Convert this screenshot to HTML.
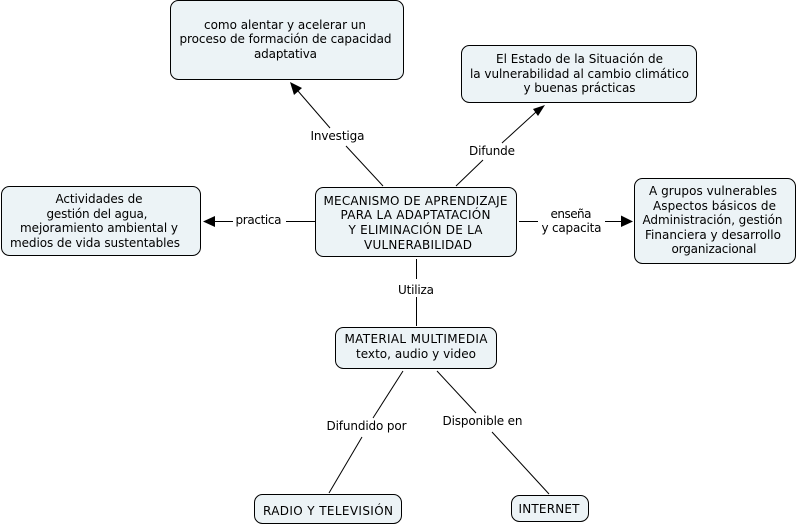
<!DOCTYPE html>
<html>
<head>
<meta charset="utf-8">
<style>
html,body{margin:0;padding:0;background:#fff;width:798px;height:526px;overflow:hidden}
svg{display:block}
text{font-family:"DejaVu Sans","Liberation Sans",sans-serif;font-size:12px;fill:#000}
rect{fill:#ecf3f6;stroke:#000;stroke-width:1}
line{stroke:#000;stroke-width:1}
polygon{fill:#000}
</style>
</head>
<body>
<svg width="798" height="526" viewBox="0 0 798 526" xmlns="http://www.w3.org/2000/svg">
<!-- connectors -->
<line x1="383" y1="186" x2="346" y2="146"/>
<line x1="330" y1="128" x2="298" y2="91"/>
<polygon points="290,82 302,88 294,95"/>
<line x1="456" y1="186" x2="483" y2="160"/>
<line x1="502" y1="143" x2="536" y2="112"/>
<polygon points="545,105 533,109 538,116"/>
<line x1="233" y1="221.500" x2="214" y2="221.500"/>
<line x1="286" y1="221.500" x2="315" y2="221.500"/>
<polygon points="203,221.500 215,216 215,227"/>
<line x1="519" y1="221.500" x2="538" y2="221.500"/>
<line x1="605" y1="221.500" x2="622" y2="221.500"/>
<polygon points="633,221.500 621,215.500 621,227"/>
<line x1="416.500" y1="259" x2="416.500" y2="279"/>
<line x1="416.500" y1="297" x2="416.500" y2="326"/>
<line x1="403" y1="371" x2="373" y2="418"/>
<line x1="362" y1="437" x2="329" y2="493"/>
<line x1="437" y1="371" x2="476" y2="413"/>
<line x1="492" y1="432" x2="549" y2="494"/>
<!-- nodes -->
<rect x="170.500" y="0.500" width="233" height="79" rx="8" ry="8"/>
<rect x="461.500" y="45.500" width="235" height="57" rx="8" ry="8"/>
<rect x="315.500" y="187.500" width="201" height="69" rx="8" ry="8"/>
<rect x="1.500" y="186.500" width="199" height="69" rx="8" ry="8"/>
<rect x="634.500" y="178.500" width="161" height="85" rx="8" ry="8"/>
<rect x="335.500" y="327.500" width="161" height="41" rx="8" ry="8"/>
<rect x="254.500" y="494.500" width="147" height="29" rx="8" ry="8"/>
<rect x="511.500" y="495.500" width="77" height="26" rx="8" ry="8"/>
<!-- node text -->
<text x="204" y="29" textLength="162" lengthAdjust="spacing">como alentar y acelerar un</text>
<text x="179.500" y="43" textLength="212" lengthAdjust="spacing">proceso de formación de capacidad</text>
<text x="254" y="58" textLength="63" lengthAdjust="spacing">adaptativa</text>

<text x="496" y="63" textLength="167" lengthAdjust="spacing">El Estado de la Situación de</text>
<text x="470" y="78" textLength="219" lengthAdjust="spacing">la vulnerabilidad al cambio climático</text>
<text x="523.500" y="92" textLength="112" lengthAdjust="spacing">y buenas prácticas</text>

<text x="323.500" y="205" textLength="184" lengthAdjust="spacing">MECANISMO DE APRENDIZAJE</text>
<text x="340.500" y="219" textLength="150" lengthAdjust="spacing">PARA LA ADAPTATACIÓN</text>
<text x="348.500" y="234" textLength="134" lengthAdjust="spacing">Y ELIMINACIÓN DE LA</text>
<text x="364" y="249" textLength="108" lengthAdjust="spacing">VULNERABILIDAD</text>

<text x="55.500" y="203" textLength="87" lengthAdjust="spacing">Actividades de</text>
<text x="46.500" y="218" textLength="101" lengthAdjust="spacing">gestión del agua,</text>
<text x="20" y="232" textLength="158" lengthAdjust="spacing">mejoramiento ambiental y</text>
<text x="10" y="247" textLength="170" lengthAdjust="spacing">medios de vida sustentables</text>

<text x="649" y="195" textLength="128" lengthAdjust="spacing">A grupos vulnerables</text>
<text x="653" y="210" textLength="123" lengthAdjust="spacing">Aspectos básicos de</text>
<text x="642.500" y="224" textLength="140" lengthAdjust="spacing">Administración, gestión</text>
<text x="645" y="239" textLength="136" lengthAdjust="spacing">Financiera y desarrollo</text>
<text x="671.500" y="253" textLength="85" lengthAdjust="spacing">organizacional</text>

<text x="344.500" y="343" textLength="143" lengthAdjust="spacing">MATERIAL MULTIMEDIA</text>
<text x="356" y="358" textLength="120" lengthAdjust="spacing">texto, audio y video</text>

<text x="263" y="515" textLength="130" lengthAdjust="spacing">RADIO Y TELEVISIÓN</text>
<text x="518.500" y="513" textLength="61" lengthAdjust="spacing">INTERNET</text>
<!-- link labels -->
<text x="310.500" y="140" textLength="54" lengthAdjust="spacing">Investiga</text>
<text x="469" y="155" textLength="46" lengthAdjust="spacing">Difunde</text>
<text x="235.500" y="224" textLength="46" lengthAdjust="spacing">practica</text>
<text x="550.500" y="218" textLength="41" lengthAdjust="spacing">enseña</text>
<text x="541.500" y="232" textLength="60" lengthAdjust="spacing">y capacita</text>
<text x="398" y="294" textLength="36" lengthAdjust="spacing">Utiliza</text>
<text x="326.500" y="430" textLength="80" lengthAdjust="spacing">Difundido por</text>
<text x="442.500" y="425" textLength="80" lengthAdjust="spacing">Disponible en</text>
</svg>
</body>
</html>
